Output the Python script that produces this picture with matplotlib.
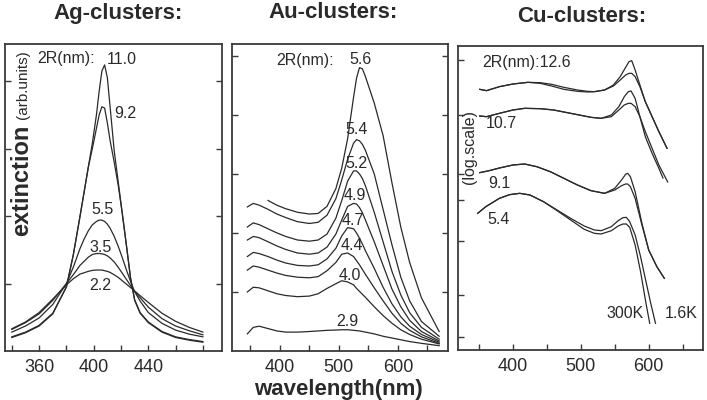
import numpy as np
import matplotlib
matplotlib.use('Agg')
import matplotlib.pyplot as plt

plt.rcParams['font.family'] = ['Liberation Sans', 'DejaVu Sans']

# ---- Ag clusters (extinction, arb. units) ----
ag_wl = [340, 350, 360, 370, 380, 385, 390, 393, 396, 399, 402, 404, 406, 408, 410,
         412, 415, 418, 421, 424, 427, 430, 434, 440, 450, 460, 470, 480]
ag_sizes = ['11.0', '9.2', '5.5', '3.5', '2.2']
ag_ext = [
    [0.20, 0.27, 0.37, 0.55, 0.95, 1.42, 2.00, 2.36, 2.72, 3.08, 3.50, 3.85, 4.15, 4.24, 4.05,
     3.62, 2.97, 2.50, 2.03, 1.56, 1.08, 0.75, 0.56, 0.42, 0.28, 0.20, 0.16, 0.13],
    [0.21, 0.28, 0.38, 0.56, 0.95, 1.42, 2.00, 2.36, 2.72, 3.00, 3.30, 3.50, 3.62, 3.60, 3.38,
     3.12, 2.80, 2.45, 2.03, 1.56, 1.08, 0.76, 0.57, 0.43, 0.29, 0.21, 0.17, 0.14],
    [0.28, 0.37, 0.49, 0.69, 1.00, 1.24, 1.52, 1.66, 1.78, 1.87, 1.92, 1.94, 1.94, 1.92, 1.88,
     1.82, 1.70, 1.55, 1.38, 1.20, 1.03, 0.88, 0.74, 0.57, 0.41, 0.31, 0.25, 0.21],
    [0.32, 0.42, 0.55, 0.75, 1.00, 1.13, 1.27, 1.33, 1.39, 1.43, 1.445, 1.445, 1.44, 1.43, 1.41,
     1.38, 1.32, 1.24, 1.15, 1.06, 0.97, 0.88, 0.79, 0.65, 0.48, 0.37, 0.30, 0.24],
    [0.33, 0.43, 0.57, 0.77, 0.98, 1.07, 1.14, 1.16, 1.18, 1.195, 1.20, 1.20, 1.20, 1.19, 1.18,
     1.165, 1.13, 1.09, 1.04, 0.99, 0.94, 0.89, 0.82, 0.72, 0.56, 0.44, 0.35, 0.28],
]

# ---- Au clusters ----
au_wl = [345, 355, 365, 380, 395, 410, 430, 450, 465, 480, 495, 505, 515, 525, 530,
         535, 540, 545, 560, 575, 590, 605, 620, 640, 670]
au_sizes = ['5.6', '5.4', '5.2', '4.9', '4.7', '4.4', '4.0', '2.9']
nan = np.nan
au_ext = [
    [nan, nan, nan, 2.55, 2.47, 2.41, 2.35, 2.32, 2.33, 2.45, 2.75, 3.10, 3.60, 4.30, 4.62,
     4.80, 4.78, 4.65, 4.20, 3.65, 2.85, 2.10, 1.50, 0.90, 0.33],
    [2.44, 2.50, 2.47, 2.40, 2.32, 2.26, 2.19, 2.16, 2.18, 2.30, 2.58, 2.90, 3.25, 3.52, 3.58,
     3.56, 3.50, 3.40, 3.00, 2.40, 1.80, 1.25, 0.85, 0.50, 0.25],
    [2.10, 2.17, 2.14, 2.07, 2.00, 1.94, 1.88, 1.86, 1.88, 1.98, 2.25, 2.55, 2.88, 3.05, 3.05,
     3.00, 2.92, 2.80, 2.35, 1.85, 1.35, 0.95, 0.65, 0.40, 0.20],
    [1.88, 1.94, 1.92, 1.85, 1.78, 1.72, 1.66, 1.64, 1.66, 1.76, 1.98, 2.22, 2.45, 2.50, 2.49,
     2.43, 2.34, 2.22, 1.85, 1.45, 1.05, 0.75, 0.52, 0.33, 0.17],
    [1.60, 1.67, 1.65, 1.60, 1.54, 1.49, 1.45, 1.44, 1.46, 1.56, 1.74, 1.95, 2.09, 2.07, 2.00,
     1.91, 1.81, 1.70, 1.40, 1.08, 0.80, 0.58, 0.42, 0.28, 0.15],
    [1.37, 1.44, 1.42, 1.37, 1.32, 1.28, 1.25, 1.24, 1.26, 1.36, 1.50, 1.64, 1.66, 1.60, 1.53,
     1.46, 1.38, 1.30, 1.07, 0.85, 0.64, 0.47, 0.35, 0.24, 0.13],
    [1.00, 1.08, 1.07, 1.02, 0.97, 0.94, 0.92, 0.93, 0.97, 1.06, 1.14, 1.19, 1.17, 1.12, 1.06,
     1.01, 0.96, 0.91, 0.75, 0.60, 0.47, 0.36, 0.28, 0.20, 0.12],
    [0.29, 0.40, 0.42, 0.38, 0.34, 0.32, 0.32, 0.33, 0.34, 0.35, 0.355, 0.36, 0.36, 0.35, 0.345,
     0.34, 0.33, 0.32, 0.29, 0.25, 0.22, 0.19, 0.16, 0.13, 0.09],
]

# ---- Cu clusters (log scale, offset) : 1.6K and 300K ----
cu_sizes = ['12.6', '10.7', '9.1', '5.4']
cu_wl_16 = [
    [351, 361, 380, 400, 422, 440, 457, 475, 495, 510, 520, 535, 548, 558, 566, 571, 575, 580, 587, 595, 605, 615, 627],
    [351, 361, 380, 400, 417, 440, 460, 480, 500, 515, 530, 545, 556, 564, 570, 574, 580, 587, 595, 605, 615, 621],
    [351, 365, 380, 400, 417, 435, 455, 475, 495, 515, 535, 550, 560, 566, 569, 573, 580, 590, 600, 612, 623],
    [348, 360, 380, 395, 410, 425, 445, 465, 485, 505, 520, 530, 545, 555, 562, 567, 572, 580, 588, 596, 603, 610],
]
cu_ext_16 = [
    [7.82, 7.78, 7.90, 7.98, 8.03, 8.02, 7.97, 7.88, 7.80, 7.76, 7.75, 7.80, 7.95, 8.20, 8.48, 8.65, 8.68, 8.40, 7.95, 7.45, 7.00, 6.55, 6.05],
    [7.02, 7.00, 7.10, 7.20, 7.25, 7.24, 7.20, 7.12, 7.04, 6.98, 6.95, 7.05, 7.30, 7.60, 7.75, 7.77, 7.55, 7.00, 6.40, 5.90, 5.45, 5.16],
    [5.32, 5.38, 5.46, 5.55, 5.58, 5.50, 5.35, 5.15, 4.95, 4.78, 4.70, 4.85, 5.10, 5.27, 5.30, 5.20, 4.75, 3.80, 3.00, 2.50, 2.15],
    [4.10, 4.30, 4.55, 4.66, 4.70, 4.65, 4.45, 4.20, 3.95, 3.72, 3.60, 3.58, 3.70, 3.88, 3.97, 3.98, 3.85, 3.45, 2.80, 2.05, 1.40, 0.80],
]
cu_wl_300 = [
    [351, 361, 380, 400, 422, 440, 457, 475, 495, 510, 520, 535, 548, 558, 566, 571, 575, 580, 587, 595, 605, 615, 627],
    [351, 361, 380, 400, 417, 440, 460, 480, 500, 515, 530, 545, 556, 564, 570, 574, 580, 587, 595, 605, 615, 628],
    [351, 365, 380, 400, 417, 435, 455, 475, 495, 515, 535, 550, 560, 566, 569, 573, 580, 590, 600, 612, 623],
    [348, 360, 380, 395, 410, 425, 445, 465, 485, 505, 520, 530, 545, 555, 562, 567, 572, 580, 588, 596, 601.5],
]
cu_ext_300 = [
    [7.82, 7.78, 7.90, 7.98, 8.03, 8.00, 7.92, 7.82, 7.76, 7.74, 7.75, 7.80, 7.92, 8.10, 8.25, 8.30, 8.30, 8.20, 7.90, 7.45, 7.00, 6.55, 6.05],
    [7.02, 7.00, 7.10, 7.20, 7.25, 7.24, 7.20, 7.12, 7.04, 6.98, 6.95, 7.00, 7.20, 7.35, 7.40, 7.40, 7.30, 7.00, 6.55, 6.05, 5.55, 5.04],
    [5.32, 5.38, 5.46, 5.55, 5.58, 5.50, 5.35, 5.15, 4.95, 4.78, 4.70, 4.80, 4.93, 4.98, 4.98, 4.90, 4.55, 3.75, 3.00, 2.50, 2.15],
    [4.10, 4.30, 4.55, 4.66, 4.70, 4.65, 4.45, 4.18, 3.90, 3.62, 3.50, 3.48, 3.58, 3.72, 3.78, 3.78, 3.68, 3.15, 2.35, 1.40, 0.80],
]

W, H = 707, 400
fig = plt.figure(figsize=(W / 100, H / 100), dpi=100)


def box(x0, y0, x1, y1):
    return [x0 / W, 1 - y1 / H, (x1 - x0) / W, (y1 - y0) / H]


def ftext(x, y, s, **kw):
    fig.text(x / W, 1 - y / H, s, ha='center', va='center', color='#2a2a2a', **kw)


line_kw = dict(color='#2a2a2a', lw=0.9)


def style(ax):
    for sp in ax.spines.values():
        sp.set_color('#3a3a3a')
        sp.set_linewidth(1.3)
    ax.tick_params(direction='in', length=4, width=1, colors='#3a3a3a',
                   labelsize=13, labelcolor='#2a2a2a', pad=6)
    ax.tick_params(which='minor', direction='in', length=4, width=1, colors='#3a3a3a')
    ax.tick_params(axis='y', labelleft=False, right=True)


ax1 = fig.add_axes(box(5, 44, 222, 351))
for v in ag_ext:
    ax1.plot(ag_wl, v, **line_kw)
ax1.set_xlim(335, 494)
ax1.set_ylim(0, 4.55)
ax1.set_xticks([360, 400, 440])
ax1.set_xticks(np.arange(340, 494, 20), minor=True)
ax1.set_yticks([1, 2, 3, 4])
style(ax1)

ax2 = fig.add_axes(box(232, 44, 448, 351))
for v in au_ext:
    ax2.plot(au_wl, v, **line_kw)
ax2.set_xlim(319, 685)
ax2.set_ylim(0, 5.2)
ax2.set_xticks([400, 500, 600])
ax2.set_xticks(np.arange(350, 685, 50), minor=True)
ax2.set_yticks([1, 2, 3, 4, 5])
style(ax2)

ax3 = fig.add_axes(box(458, 46, 703, 350))
for i in range(len(cu_sizes)):
    ax3.plot(cu_wl_16[i], cu_ext_16[i], **line_kw)
    ax3.plot(cu_wl_300[i], cu_ext_300[i], **line_kw)
ax3.set_xlim(319, 680)
ax3.set_ylim(0, 9.12)
ax3.set_xticks([400, 500, 600])
ax3.set_xticks(np.arange(350, 680, 50), minor=True)
ax3.set_yticks([0.4, 1.65, 3.28, 4.5, 5.28, 7.05, 8.7])
style(ax3)
ax3.tick_params(axis='y', right=False)

# titles and axis labels
ftext(118, 13, 'Ag-clusters:', fontsize=16, fontweight='bold')
ftext(333, 13, 'Au-clusters:', fontsize=16, fontweight='bold')
ftext(582, 16, 'Cu-clusters:', fontsize=16, fontweight='bold')
ftext(338, 389, 'wavelength(nm)', fontsize=16, fontweight='bold')
ftext(22, 180, 'extinction', fontsize=17, fontweight='bold', rotation=90)
ftext(23, 85, '(arb.units)', fontsize=11, rotation=90)
ftext(470, 147, '(log.scale)', fontsize=11.5, rotation=90)

# size labels
lab = dict(fontsize=11.5)
ftext(66, 59, '2R(nm):', **lab)
for s, (x, y) in zip(ag_sizes, [(122, 60), (125, 113), (103, 210), (101, 247), (100, 285)]):
    ftext(x, y, s, **lab)
ftext(305, 61, '2R(nm):', **lab)
for s, (x, y) in zip(au_sizes, [(360, 60), (357, 130), (356, 163), (355, 195), (353, 220),
                               (352, 245), (350, 275), (347, 322)]):
    ftext(x, y, s, **lab)
ftext(527, 63, '2R(nm):' + cu_sizes[0], **lab)
for s, (x, y) in zip(cu_sizes[1:], [(501, 124), (499, 183), (499, 219)]):
    ftext(x, y, s, **lab)
ftext(625, 313, '300K', **lab)
ftext(681, 313, '1.6K', **lab)

fig.savefig('out.png', dpi=100)
